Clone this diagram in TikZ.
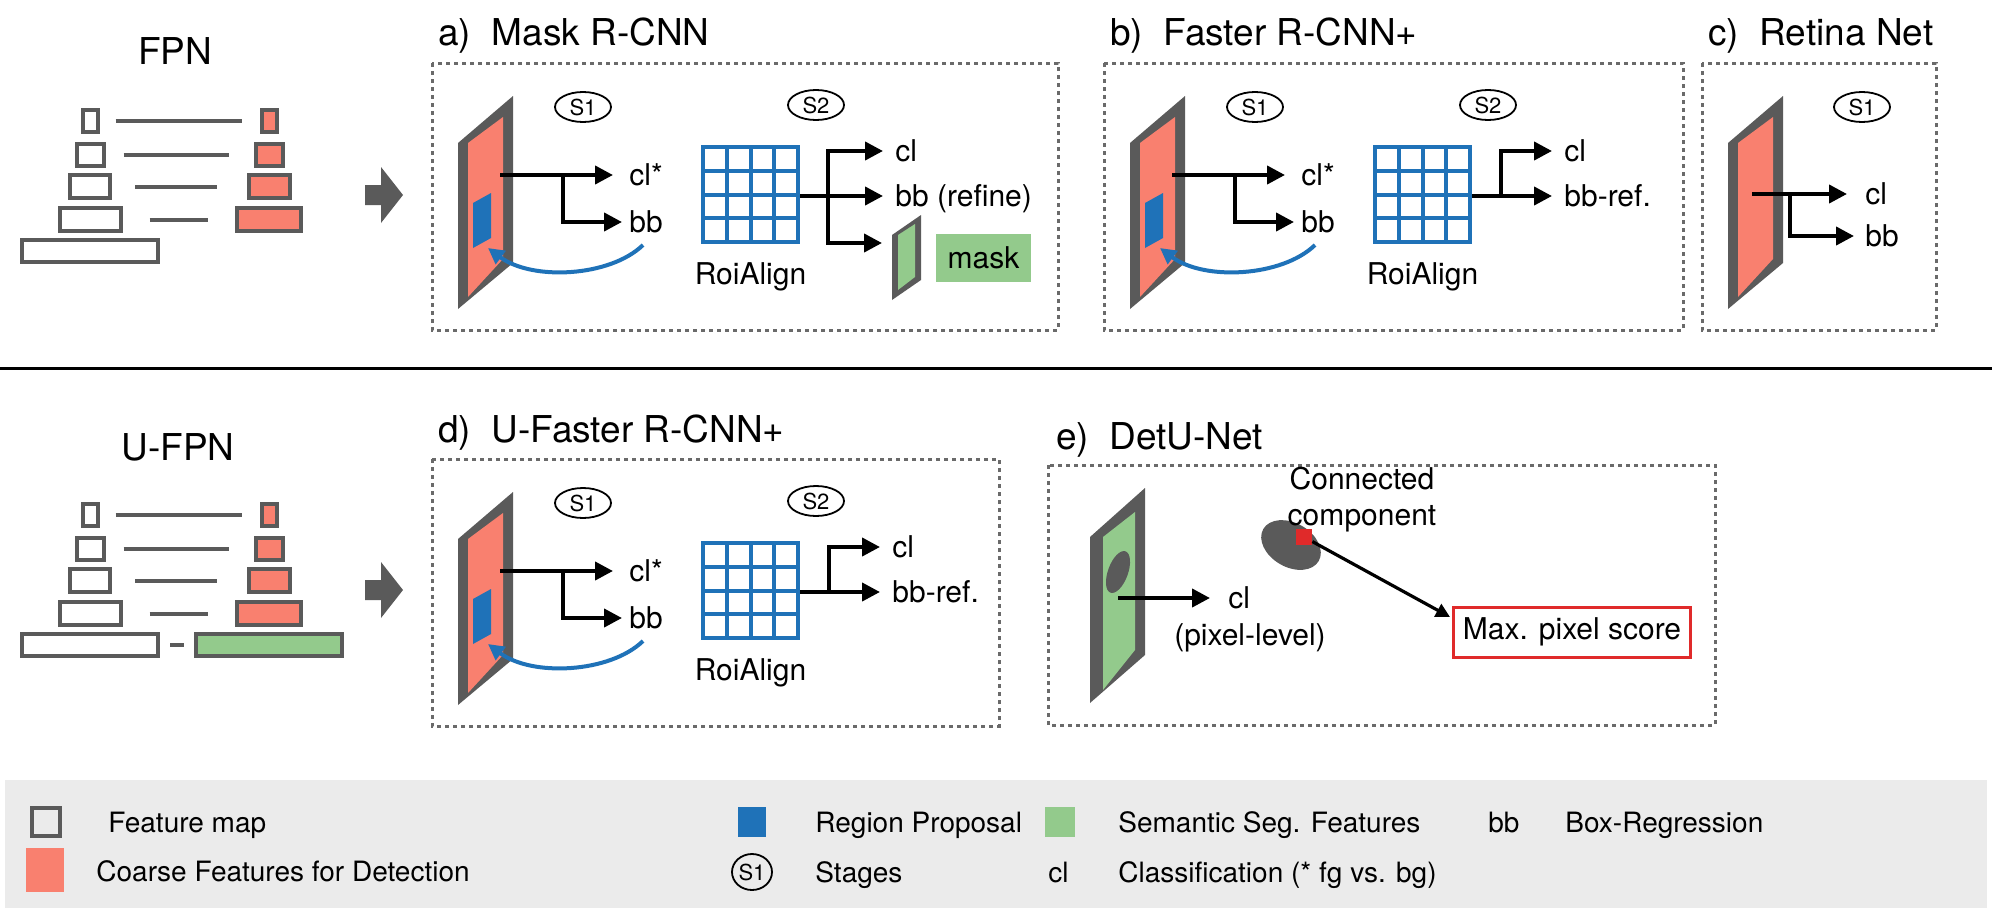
\documentclass[tikz,border=0pt]{standalone}
\usepackage{fontspec}
\setmainfont{TeX Gyre Heros}
\usetikzlibrary{arrows.meta,shapes.geometric}
\definecolor{fgray}{HTML}{5A5A5A}
\definecolor{dgray}{HTML}{6A6A6A}
\definecolor{salmon}{HTML}{F9806F}
\definecolor{rblue}{HTML}{1F72B8}
\definecolor{sgreen}{HTML}{93CA8C}
\definecolor{lgray}{HTML}{EBEBEB}
\definecolor{mred}{HTML}{E02A2A}

\newcommand{\slabshape}[1]{%
  \fill[fgray] (26,80) -- (81,33) -- (81,200) -- (26,246) -- cycle;
  \fill[#1] (36,80) -- (71,54) -- (71,196) -- (36,234) -- cycle;
}
\newcommand{\stageone}[1]{%
  \slabshape{salmon}
  \fill[rblue] (41,140) -- (59,130) -- (59,175) -- (41,185) -- cycle;
  \node[stage] (#1S1) at (151,44) {S1};
  \coordinate (#1a) at (68,112);
  \coordinate (#1b) at (131,112);
  \coordinate (#1c) at (181,112);
  \coordinate (#1d) at (190,159);
  \draw[arr] (#1a) -- (#1c);
  \draw[arr] (#1b) |- (#1d);
  \node[lbl] (#1cl) at (197,122) {cl*};
  \node[lbl] (#1bb) at (197,169) {bb};
  \coordinate (#1e) at (211,182);
  \coordinate (#1f) at (56,185);
  \draw[barr] (#1e) .. controls (178,214) and (100,218) .. (#1f);
}
\newcommand{\stagetwo}[1]{%
  \node[stage] (#1S2) at (384,42) {S2};
  \fill[white] (271,84) rectangle (366,179);
  \foreach \k in {0,1,2,3,4}{
    \draw[gridl] ({271+\k*23.75},84) -- ({271+\k*23.75},179);
    \draw[gridl] (271,{84+\k*23.75}) -- (366,{84+\k*23.75});
  }
  \node[lbl, anchor=base] (#1roi) at (318.5,221) {RoiAlign};
  \coordinate (#1g) at (368,133);
}
\newcommand{\fasterbranch}[1]{%
  \coordinate (#1h) at (397,133);
  \coordinate (#1i) at (397,88);
  \coordinate (#1t1) at (448,88);
  \coordinate (#1t2) at (448,133);
  \draw[arr] (#1g) -- (#1t2);
  \draw[arr] (#1h) -- (#1i) -- (#1t1);
  \node[lbl] (#1lc) at (460,98) {cl};
  \node[lbl] (#1lb) at (460,143) {bb-ref.};
}
\newcommand{\pyramid}[2]{%
 \begin{scope}[shift={(0,#1)}]
  \node[pbox, minimum width=7.5pt, minimum height=11pt] (#2L1) at (90,121) {};
  \node[pbox, minimum width=13.5pt, minimum height=11pt] (#2L2) at (90,155) {};
  \node[pbox, minimum width=20pt, minimum height=11.5pt] (#2L3) at (90,186.5) {};
  \node[pbox, minimum width=30.5pt, minimum height=11.5pt] (#2L4) at (90,219.5) {};
  \node[pbox, minimum width=68pt, minimum height=11pt] (#2L5) at (90,251) {};
  \node[pbox, fill=salmon, minimum width=7.5pt, minimum height=11pt] (#2R1) at (269,121) {};
  \node[pbox, fill=salmon, minimum width=13.5pt, minimum height=11pt] (#2R2) at (269,155) {};
  \node[pbox, fill=salmon, minimum width=20.5pt, minimum height=11.5pt] (#2R3) at (269,186.5) {};
  \node[pbox, fill=salmon, minimum width=32pt, minimum height=11.5pt] (#2R4) at (269,219.5) {};
  \draw[conn, shorten <=8pt, shorten >=9pt] (#2L1) -- (#2R1);
  \draw[conn, shorten <=9pt, shorten >=12.5pt] (#2L2) -- (#2R2);
  \draw[conn, shorten <=11.5pt, shorten >=15pt] (#2L3) -- (#2R3);
  \draw[conn, shorten <=13.5pt, shorten >=13.5pt] (#2L4) -- (#2R4);
 \end{scope}
}

\begin{document}
\begin{tikzpicture}[x=0.5pt,y=-0.5pt,
  panel/.style={draw=dgray, line width=1.5pt, dash pattern=on 2pt off 2pt},
  ttl/.style={font=\fontsize{18.5}{22}\selectfont, anchor=base west, inner sep=0pt},
  bigttl/.style={font=\fontsize{18.5}{22}\selectfont, anchor=base, inner sep=0pt},
  lbl/.style={font=\fontsize{15}{18}\selectfont, anchor=base west, inner sep=0pt},
  leg/.style={font=\fontsize{14}{17}\selectfont, anchor=base west, inner sep=0pt},
  stage/.style={draw, line width=0.9pt, ellipse, minimum width=28pt, minimum height=15pt, inner sep=0pt, font=\fontsize{11}{13}\selectfont},
  arr/.style={line width=2pt, -{Triangle[length=9pt,width=9pt]}},
  barr/.style={draw=rblue, line width=2pt, -{Triangle[length=8pt,width=8pt]}},
  gridl/.style={draw=rblue, line width=2pt, line cap=rect},
  pbox/.style={draw=fgray, line width=2pt, inner sep=0pt},
  conn/.style={draw=fgray, line width=2pt},
]
\useasboundingbox (0,0) rectangle (1992,921);

% ---------------- top row ----------------
\node[bigttl] (tfpn) at (175,64) {FPN};
\pyramid{0}{a}
\fill[fgray] (365,185) -- (381,185) -- (381,167) -- (403,195) -- (381,223) -- (381,205) -- (365,205) -- cycle;

% a) Mask R-CNN
\node[ttl] (ta) at (438,46) {a)\hspace{0.55em}Mask R-CNN};
\begin{scope}[shift={(432,63)}]
  \draw[panel] (0,0) rectangle (626,267);
  \stageone{m}
  \stagetwo{m}
  \draw[line width=2pt, line cap=rect] (396,88) -- (396,180);
  \coordinate (mv1) at (396,88);
  \coordinate (mv2) at (396,133);
  \coordinate (mv3) at (396,180);
  \coordinate (mt1) at (451,88);
  \coordinate (mt2) at (451,133);
  \coordinate (mt3) at (450,180);
  \draw[arr] (mg) -- (mt2);
  \draw[arr] (mv1) -- (mt1);
  \draw[arr] (mv3) -- (mt3);
  \node[lbl] (mcl2) at (463,98) {cl};
  \node[lbl] (mbb2) at (463,143) {bb (refine)};
  \fill[fgray] (460,172) -- (489,152) -- (489,217) -- (460,237) -- cycle;
  \fill[sgreen] (466,172) -- (483,161) -- (483,214) -- (466,227) -- cycle;
  \node[fill=sgreen, minimum width=47.5pt, minimum height=24pt, inner sep=0pt, font=\fontsize{15}{18}\selectfont] (mmask) at (551.5,195) {mask};
\end{scope}

% b) Faster R-CNN+
\node[ttl] (tb) at (1110,46) {b)\hspace{0.55em}Faster R-CNN+};
\begin{scope}[shift={(1104,63)}]
  \draw[panel] (0,0) rectangle (579,267);
  \stageone{f}
  \stagetwo{f}
  \fasterbranch{f}
\end{scope}

% c) Retina Net
\node[ttl] (tc) at (1708,46) {c)\hspace{0.55em}Retina Net};
\begin{scope}[shift={(1702,63)}]
  \draw[panel] (0,0) rectangle (234,267);
  \slabshape{salmon}
  \node[stage] (rS1) at (160,44) {S1};
  \coordinate (ra) at (50,131);
  \coordinate (rb) at (88,131);
  \coordinate (rc) at (145,131);
  \coordinate (rd) at (152,173);
  \draw[arr] (ra) -- (rc);
  \draw[arr] (rb) |- (rd);
  \node[lbl] (rcl) at (163,141) {cl};
  \node[lbl] (rbb) at (163,183) {bb};
\end{scope}

% separator
\draw[line width=1.5pt] (0,368) -- (1992,368);

% ---------------- bottom row ----------------
\node[bigttl] (tufpn) at (178,460) {U-FPN};
\pyramid{394}{b}
\node[pbox, fill=sgreen, minimum width=73pt, minimum height=11pt] (bG5) at (269,645) {};
\draw[conn, shorten <=5pt, shorten >=5pt] (bL5) -- (bG5);
\fill[fgray] (365,580) -- (381,580) -- (381,562) -- (403,590) -- (381,618) -- (381,600) -- (365,600) -- cycle;

% d) U-Faster R-CNN+
\node[ttl] (td) at (438,442) {d)\hspace{0.55em}U-Faster R-CNN+};
\begin{scope}[shift={(432,459)}]
  \draw[panel] (0,0) rectangle (567,267);
  \stageone{u}
  \stagetwo{u}
  \fasterbranch{u}
\end{scope}

% e) DetU-Net
\node[ttl] (te) at (1056,449) {e)\hspace{0.55em}DetU-Net};
\draw[panel] (1048,465) rectangle (1715,725);
\fill[fgray] (1090,537) -- (1145,488) -- (1145,655) -- (1090,703) -- cycle;
\fill[sgreen] (1103,537) -- (1135,512) -- (1135,650) -- (1103,690) -- cycle;
\fill[fgray, rotate around={-20:(1118,572)}] (1118,572) ellipse [x radius=5pt, y radius=11pt];
\coordinate (ds) at (1118,598);
\coordinate (dt) at (1210,598);
\draw[arr] (ds) -- (dt);
\node[lbl] (dcl) at (1228,608) {cl};
\node[lbl, anchor=base] (dpl) at (1250,645) {(pixel-level)};
\fill[fgray, rotate around={-30:(1291,545)}] (1291,545) ellipse [x radius=16pt, y radius=11pt];
\node[fill=mred, minimum size=8pt, inner sep=0pt] (dsq) at (1304,537) {};
\node[font=\fontsize{15}{18}\selectfont, align=center, inner sep=0pt] (dcc) at (1362,500) {Connected\\component};
\node[draw=mred, line width=1.5pt, fill=white, minimum width=118.5pt, minimum height=25pt, inner sep=0pt, font=\fontsize{15}{18}\selectfont] (dmx) at (1572,632) {Max. pixel score};
\coordinate (dend) at (1450,617);
\draw[line width=1.6pt, -{Triangle[length=7pt,width=7pt]}] (dsq) -- (dend);

% ---------------- legend ----------------
\fill[lgray] (5,780) rectangle (1987,908);
\node[draw=fgray, line width=2pt, minimum width=14pt, minimum height=14pt, inner sep=0pt] (lfm) at (46,822) {};
\node[leg] (lfmt) at (108,832) {Feature map};
\node[fill=salmon, minimum width=19pt, minimum height=22pt, inner sep=0pt] (lcf) at (45,870) {};
\node[leg] (lcft) at (96,881) {Coarse Features for Detection};
\node[fill=rblue, minimum width=14pt, minimum height=15pt, inner sep=0pt] (lrp) at (752,822) {};
\node[leg] (lrpt) at (815,832) {Region Proposal};
\node[stage, minimum width=20pt, minimum height=18pt] (lst) at (752,872) {S1};
\node[leg] (lstt) at (815,882) {Stages};
\node[fill=sgreen, minimum width=15pt, minimum height=15pt, inner sep=0pt] (lsg) at (1060,822) {};
\node[leg] (lsgt) at (1118,832) {Semantic Seg. Features};
\node[leg] (lcl) at (1048,882) {cl};
\node[leg] (lclt) at (1118,882) {Classification (* fg vs. bg)};
\node[leg] (lbb) at (1488,832) {bb};
\node[leg] (lbbt) at (1565,832) {Box-Regression};
\end{tikzpicture}
\end{document}
